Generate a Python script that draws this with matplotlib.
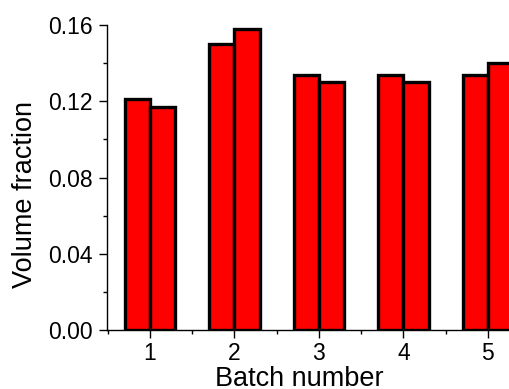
import matplotlib.pyplot as plt
import numpy as np
from matplotlib.ticker import MultipleLocator

plt.rcParams["font.family"] = ["Liberation Sans", "DejaVu Sans"]

# ---- Data ----
batches = [1, 2, 3, 4, 5]
series_a = [0.121, 0.150, 0.134, 0.134, 0.134]
series_b = [0.117, 0.158, 0.130, 0.130, 0.140]

BAR_W = 0.3

fig = plt.figure(figsize=(5.09, 3.89), dpi=100)
ax = fig.add_axes([0.210, 0.1517, 0.790, 0.784])

x = np.array(batches, dtype=float)
ax.bar(x - BAR_W / 2, series_a, width=BAR_W, color="#ff0000",
       edgecolor="black", linewidth=2.4, zorder=2)
ax.bar(x + BAR_W / 2, series_b, width=BAR_W, color="#ff0000",
       edgecolor="black", linewidth=2.4, zorder=2)

ax.set_xlim(0.49, 5.25)
ax.set_ylim(0, 0.16)

ax.set_xticks(batches)
ax.xaxis.set_minor_locator(MultipleLocator(0.5))
ax.set_yticks([0.0, 0.04, 0.08, 0.12, 0.16])
ax.set_yticklabels(["0.00", "0.04", "0.08", "0.12", "0.16"])
ax.yaxis.set_minor_locator(MultipleLocator(0.02))

ax.tick_params(which="major", direction="out", length=6, width=1,
               labelsize=16.5, pad=4)
ax.tick_params(axis="x", which="major", pad=3)
ax.tick_params(which="minor", direction="out", length=3, width=1)

for side in ("top", "right"):
    ax.spines[side].set_visible(False)
for side in ("left", "bottom"):
    ax.spines[side].set_linewidth(1)
    ax.spines[side].set_zorder(3)

# label sits right at the bottom edge, as in the reference
ax.set_xlabel("Batch number", fontsize=19.5, va="baseline")
ax.xaxis.set_label_coords(0.478, -0.184)
ax.set_ylabel("Volume fraction", fontsize=19.5, va="center")
ax.yaxis.set_label_coords(-0.204, 0.443)

fig.savefig("out.png", dpi=100)
